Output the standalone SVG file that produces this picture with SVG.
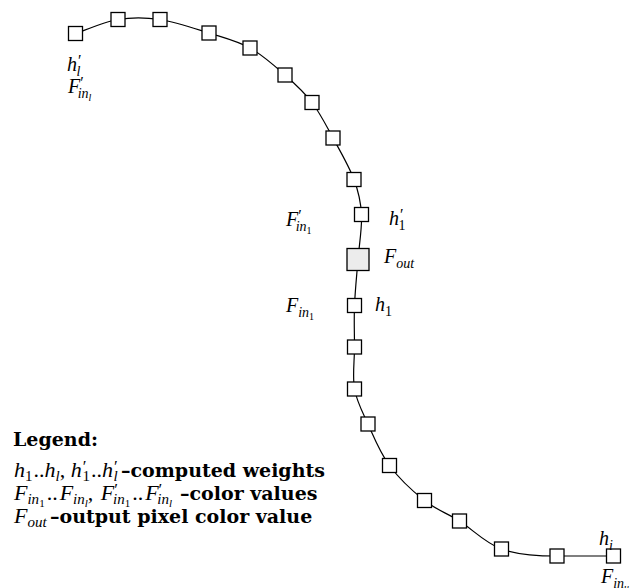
<svg xmlns="http://www.w3.org/2000/svg" width="631" height="588" viewBox="0 0 631 588">
<style>
.bx{fill:#fff;stroke:#000;stroke-width:1.3}
.out{fill:#ececec;stroke:#000;stroke-width:1.3}
.cv{fill:none;stroke:#000;stroke-width:1.2}
.m{font-family:"Liberation Serif",serif;font-style:italic;font-size:20px;fill:#000}
.s{font-size:14px}
.ss{font-size:10px}
.p{font-size:16px;font-style:normal}
.u{font-style:normal}
.lm{font-family:"Liberation Serif",serif;font-style:italic;font-size:22px;fill:#000}
.ls{font-size:15px}
.lss{font-size:11px}
.lp{font-size:17px;font-style:normal}
.b{font-family:"DejaVu Serif",serif;font-weight:bold;font-style:normal;font-size:19px}
</style>
<rect width="631" height="588" fill="#fff"/>
<g id="connectors">
<path class="cv" d="M75.5,33.5 C82.6,31.2 103.9,21.8 118,19.5 C132.1,17.2 144.8,17.3 160,19.5 C175.2,21.8 194,28.3 209,33 C224,37.8 237.3,41 250,48 C262.7,55 274.7,65.9 285,75 C295.3,84.1 304,92 312,102.5 C320,113 326,125.2 333,138 C340,150.8 349.3,166.8 354,179.5 C358.8,192.3 360.8,201.2 361.5,214.5 C362.2,227.8 359.2,244.3 358,259.5 C356.8,274.7 355.1,290.9 354.5,305.5 C353.9,320.1 354.5,333.1 354.5,347 C354.5,360.9 352.3,376.2 354.5,389 C356.8,401.8 362.2,411.3 368,424 C373.8,436.8 380.1,452.8 389.5,465.5 C398.9,478.3 412.8,491.3 424.5,500.5 C436.2,509.8 446.7,512.9 459.5,521 C472.3,529.1 485.3,543.2 501.5,549 C517.8,554.8 538.3,556 557,556 C575.7,556 604.1,556 613.5,556"/>
</g>
<g id="n1"><rect class="bx" x="68.5" y="26.5" width="14" height="14"/></g>
<g id="n2"><rect class="bx" x="111" y="12.5" width="14" height="14"/></g>
<g id="n3"><rect class="bx" x="153" y="12.5" width="14" height="14"/></g>
<g id="n4"><rect class="bx" x="202" y="26" width="14" height="14"/></g>
<g id="n5"><rect class="bx" x="243" y="41" width="14" height="14"/></g>
<g id="n6"><rect class="bx" x="278" y="68" width="14" height="14"/></g>
<g id="n7"><rect class="bx" x="305" y="95.5" width="14" height="14"/></g>
<g id="n8"><rect class="bx" x="326" y="131" width="14" height="14"/></g>
<g id="n9"><rect class="bx" x="347" y="172.5" width="14" height="14"/></g>
<g id="n10"><rect class="bx" x="354.5" y="207.5" width="14" height="14"/></g>
<g id="nout"><rect class="out" x="347" y="248.5" width="22" height="22"/></g>
<g id="n12"><rect class="bx" x="347.5" y="298.5" width="14" height="14"/></g>
<g id="n13"><rect class="bx" x="347.5" y="340" width="14" height="14"/></g>
<g id="n14"><rect class="bx" x="347.5" y="382" width="14" height="14"/></g>
<g id="n15"><rect class="bx" x="361" y="417" width="14" height="14"/></g>
<g id="n16"><rect class="bx" x="382.5" y="458.5" width="14" height="14"/></g>
<g id="n17"><rect class="bx" x="417.5" y="493.5" width="14" height="14"/></g>
<g id="n18"><rect class="bx" x="452.5" y="514" width="14" height="14"/></g>
<g id="n19"><rect class="bx" x="494.5" y="542" width="14" height="14"/></g>
<g id="n20"><rect class="bx" x="550" y="549" width="14" height="14"/></g>
<g id="n21"><rect class="bx" x="606.5" y="549" width="14" height="14"/></g>
<g id="labels">
<text class="m" x="67" y="71">h<tspan class="p" dx="1" y="66">′</tspan><tspan class="s" dx="-5" y="76">l</tspan></text>
<text class="m" x="68" y="93">F<tspan class="p" y="88">′</tspan><tspan class="s" dx="-6" y="98">in</tspan><tspan class="ss" y="101">l</tspan></text>
<text class="m" x="286" y="226">F<tspan class="p" y="221">′</tspan><tspan class="s" dx="-6" y="231">in</tspan><tspan class="ss u" y="234">1</tspan></text>
<text class="m" x="389" y="225">h<tspan class="p" dx="1" y="220">′</tspan><tspan class="s u" dx="-5" y="230">1</tspan></text>
<text class="m" x="384" y="263">F<tspan class="s" y="268">out</tspan></text>
<text class="m" x="286" y="312">F<tspan class="s" y="317">in</tspan><tspan class="ss u" y="320">1</tspan></text>
<text class="m" x="375" y="311">h<tspan class="s u" y="316">1</tspan></text>
<text class="m" x="599" y="545">h<tspan class="s" y="550">i</tspan></text>
<text class="m" x="601" y="583">F<tspan class="s" y="588">in</tspan><tspan class="ss" y="591">u</tspan></text>
</g>
<g id="legend">
<text class="b" x="13" y="446">Legend:</text>
<text class="lm" x="14" y="477">h<tspan class="ls u" y="481">1</tspan><tspan class="u" dx="1" y="477">..</tspan>h<tspan class="ls" y="481">l</tspan><tspan class="u" y="477">, </tspan>h<tspan class="lp" dx="1" y="472">′</tspan><tspan class="ls u" dx="-4" y="481">1</tspan><tspan class="u" dx="1" y="477">..</tspan>h<tspan class="lp" dx="1" y="472">′</tspan><tspan class="ls" dx="-4" y="481">l</tspan><tspan class="b" x="121" y="477">–computed weights</tspan></text>
<text class="lm" x="14" y="500">F<tspan class="ls" y="504">in</tspan><tspan class="lss u" y="507">1</tspan><tspan class="u" dx="2" y="500">..</tspan><tspan dx="2">F</tspan><tspan class="ls" y="504">in</tspan><tspan class="lss" y="507">l</tspan><tspan class="u" y="500">, </tspan><tspan dx="2">F</tspan><tspan class="lp" y="495">′</tspan><tspan class="ls" dx="-5" y="504">in</tspan><tspan class="lss u" y="507">1</tspan><tspan class="u" dx="2" y="500">..</tspan><tspan dx="2">F</tspan><tspan class="lp" y="495">′</tspan><tspan class="ls" dx="-5" y="504">in</tspan><tspan class="lss" y="507">l</tspan><tspan class="b" x="180" y="500">–color values</tspan></text>
<text class="lm" x="14" y="523">F<tspan class="ls" y="527">out</tspan><tspan class="b" x="50" y="523">–output pixel color value</tspan></text>
</g>
</svg>
